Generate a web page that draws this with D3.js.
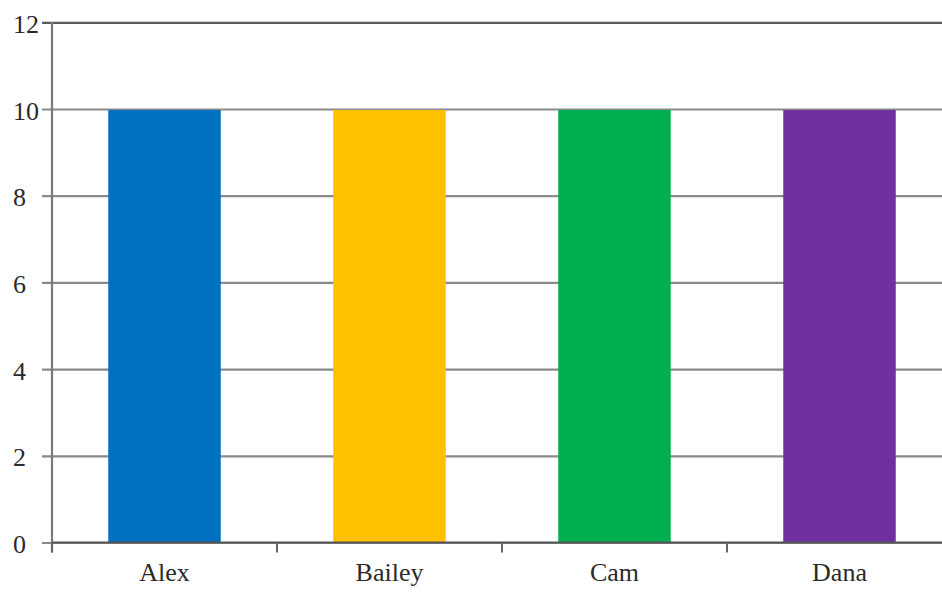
<!DOCTYPE html>
<html><head><meta charset="utf-8">
<script src="https://cdn.jsdelivr.net/npm/d3@7"></script>
<style>
html,body{margin:0;padding:0;background:#fff;}
svg{display:block;}
text{font-family:"Liberation Serif","Times New Roman",serif;}
</style></head>
<body>
<svg id="chart" width="942" height="601"></svg>
<script>
const categories = ["Alex", "Bailey", "Cam", "Dana"];
const values = [10, 10, 10, 10];
const barColors = ["#0070C0", "#FFC000", "#00B050", "#7030A0"];
const yTicks = [0, 2, 4, 6, 8, 10, 12];

const svg = d3.select("#chart");
const mLeft = 52, mRight = 952, mTop = 22.3, mBottom = 542.5;

const x = d3.scaleBand().domain(categories).range([mLeft, mRight])
  .paddingInner(0.5).paddingOuter(0.25);
const y = d3.scaleLinear().domain([0, 12]).range([mBottom, mTop]);

// gridlines + y labels
const yAxis = svg.append("g").attr("transform", `translate(${mRight},0)`)
  .call(d3.axisLeft(y).tickValues(yTicks).tickSize(mRight - 42).tickFormat(d3.format("d")));
yAxis.select(".domain").remove();
yAxis.selectAll(".tick line")
  .attr("stroke", d => d === 12 ? "#5a5a5a" : "#8a8a8a")
  .attr("stroke-width", 2.2);
yAxis.selectAll(".tick text")
  .attr("x", 13 - mRight).attr("dy", null).attr("y", 10)
  .attr("text-anchor", "start")
  .attr("font-size", 26).attr("fill", "#2a2a2a")
  .attr("font-family", "'Liberation Serif', serif");

// bars
svg.append("g").selectAll("rect").data(categories).join("rect")
  .attr("x", d => x(d))
  .attr("width", x.bandwidth())
  .attr("y", (d, i) => y(values[i]) + 1)
  .attr("height", (d, i) => y(0) - y(values[i]) - 1)
  .attr("fill", (d, i) => barColors[i]);

// y axis line
svg.append("line").attr("x1", mLeft).attr("x2", mLeft)
  .attr("y1", mTop).attr("y2", mBottom + 10)
  .attr("stroke", "#7a7a7a").attr("stroke-width", 2.2);

// x axis
const boundaries = categories.map(c => x(c) - x.step() * x.paddingInner() / 2);
const xAxisG = svg.append("g");
xAxisG.append("line").attr("x1", mLeft).attr("x2", mRight)
  .attr("y1", mBottom).attr("y2", mBottom)
  .attr("stroke", "#555").attr("stroke-width", 2.2);
xAxisG.selectAll(".xt").data(boundaries).join("line").attr("class", "xt")
  .attr("x1", d => d).attr("x2", d => d)
  .attr("y1", mBottom).attr("y2", mBottom + 10)
  .attr("stroke", "#666").attr("stroke-width", 2);
xAxisG.selectAll(".xl").data(categories).join("text").attr("class", "xl")
  .attr("x", d => x(d) + x.bandwidth() / 2)
  .attr("y", mBottom + 38.5)
  .attr("text-anchor", "middle")
  .attr("font-size", 26).attr("fill", "#2a2a2a")
  .text(d => d);
</script>
</body></html>
